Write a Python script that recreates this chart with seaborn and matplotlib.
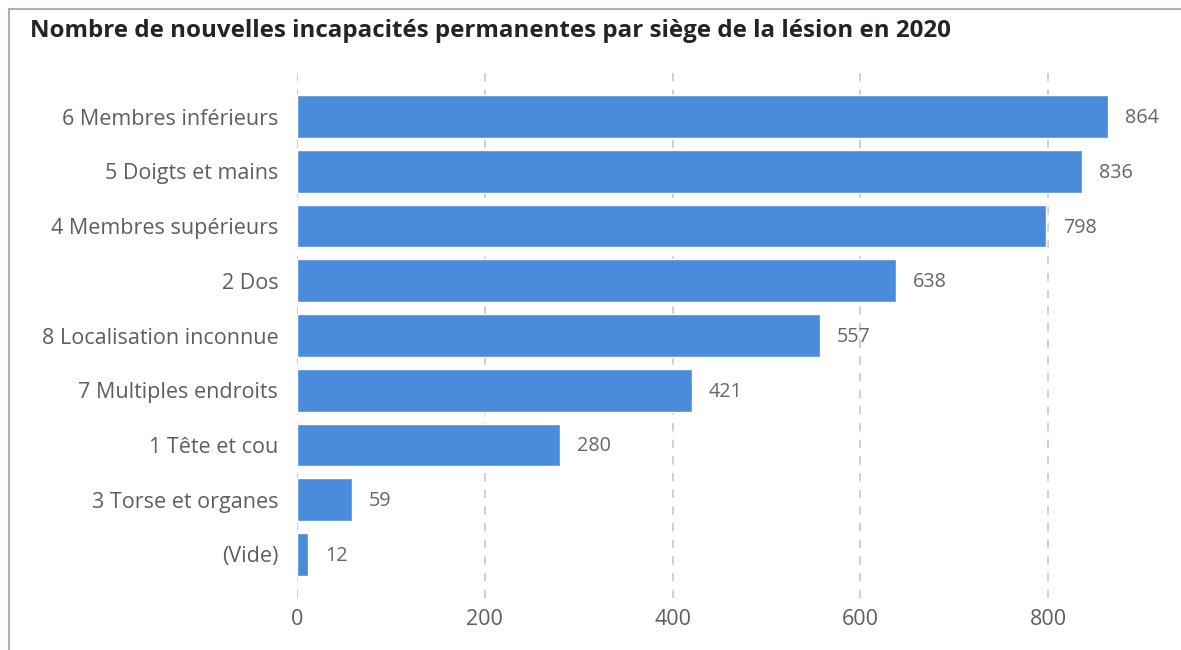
import matplotlib
matplotlib.use("Agg")
import matplotlib.pyplot as plt
import seaborn as sns
import pandas as pd
from matplotlib.lines import Line2D

categories = ["6 Membres inférieurs", "5 Doigts et mains", "4 Membres supérieurs",
              "2 Dos", "8 Localisation inconnue", "7 Multiples endroits",
              "1 Tête et cou", "3 Torse et organes", "(Vide)"]
values = [864, 836, 798, 638, 557, 421, 280, 59, 12]
xticks = [0, 200, 400, 600, 800]
title = "Nombre de nouvelles incapacités permanentes par siège de la lésion en 2020"

sns.set_theme(style="white")
plt.rcParams["font.family"] = ["Open Sans", "DejaVu Sans"]

df = pd.DataFrame({"cat": categories, "val": values})

fig = plt.figure(figsize=(11.81, 6.5), dpi=100)
ax = fig.add_axes([297/1181, 1-598/650, (1142-297)/1181, (598-73)/650])

sns.barplot(data=df, x="val", y="cat", orient="h", color="#4A8CDB",
            saturation=1, width=0.78, ax=ax, zorder=3)

ax.set_xlim(0, 900)
ax.set_ylim(8.8, -0.8)
ax.set_xticks(xticks)
ax.set_xticklabels([str(t) for t in xticks])
ax.set_xlabel("")
ax.set_ylabel("")
for s in ax.spines.values():
    s.set_visible(False)
ax.grid(axis="x", color="#c8c8c8", linestyle=(0, (5, 5)), linewidth=1.2, zorder=0)
ax.grid(axis="y", visible=False)
ax.tick_params(axis="both", length=0, labelcolor="#605E5C")
ax.tick_params(axis="x", pad=8, labelsize=15.5)
ax.tick_params(axis="y", pad=13.5, labelsize=15.5)

for i, v in enumerate(values):
    ax.annotate(str(v), xy=(v, i), xytext=(12, -1), textcoords="offset points",
                va="center", ha="left", fontsize=14.2, color="#666666")

fig.text(30/1181, 1-31/650, title, fontsize=17.4, fontweight="bold",
         color="#252423", va="center", ha="left")

# frame border lines (top and left)
fig.add_artist(Line2D([9/1181, 1], [1-9/650, 1-9/650], color="#b0b0b0", lw=1.5,
                      transform=fig.transFigure))
fig.add_artist(Line2D([9.5/1181, 9.5/1181], [0, 1-9/650], color="#b0b0b0", lw=1.5,
                      transform=fig.transFigure))

fig.savefig("out.png", dpi=100)
